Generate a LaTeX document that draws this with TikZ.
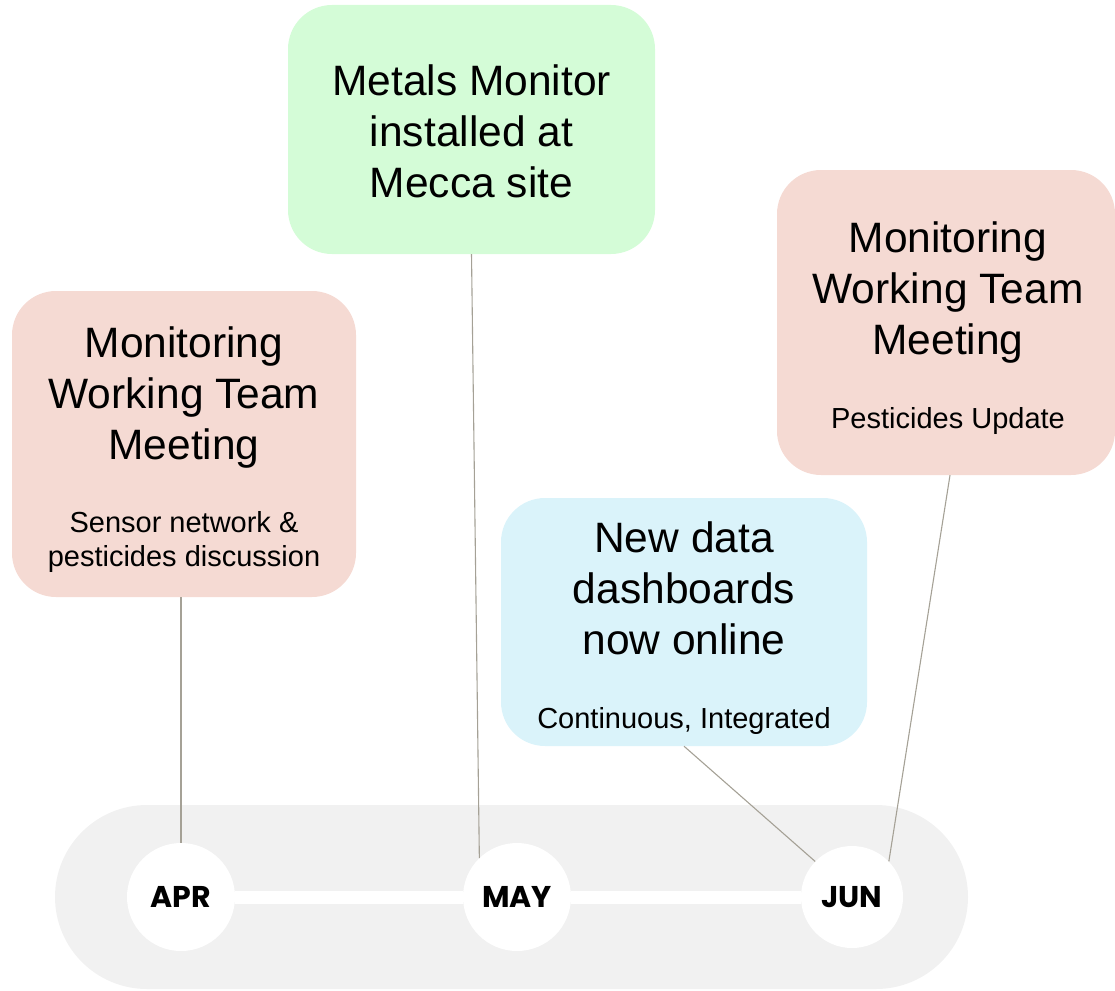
\documentclass[tikz,border=0pt]{standalone}
\usepackage{fontspec}
\setmainfont{Liberation Sans}
\newfontfamily\monthfont{Poppins}[BoldFont={Poppins Bold}]
\usetikzlibrary{calc}
\definecolor{pinkbox}{RGB}{245,218,211}
\definecolor{greenbox}{RGB}{212,252,215}
\definecolor{bluebox}{RGB}{218,243,250}
\definecolor{trackgray}{RGB}{241,241,241}
\definecolor{linkgray}{RGB}{165,161,150}
\tikzset{
  evbox/.style={rectangle, rounded corners=44pt, inner sep=0pt, draw=none},
  title/.style={anchor=base, inner sep=0pt, font=\fontsize{42.5}{51}\selectfont},
  sub/.style={anchor=base, inner sep=0pt, font=\fontsize{29}{34}\selectfont},
  month/.style={circle, fill=white, inner sep=0pt, font=\monthfont\bfseries\fontsize{30}{32}\selectfont},
  link/.style={draw=linkgray, line width=1.1pt},
}
\begin{document}
\begin{tikzpicture}[x=1pt,y=-1pt]
\useasboundingbox (0,0) rectangle (1115,990);
% track background
\fill[trackgray, rounded corners=92pt] (55,805) rectangle (968,989);
% month circles
\node[month, minimum size=108pt] (apr) at (181,897) {APR};
\node[month, minimum size=108pt] (may) at (517,897) {MAY};
\node[month, minimum size=102pt] (jun) at (852,897) {JUN};
% boxes
\node[evbox, fill=pinkbox, minimum width=344pt, minimum height=306pt] (lbox) at (184,444) {};
\node[evbox, fill=greenbox, minimum width=367pt, minimum height=249pt] (gbox) at (471.5,129.5) {};
\node[evbox, fill=pinkbox, minimum width=338pt, minimum height=305pt] (rbox) at (946,322.5) {};
\node[evbox, fill=bluebox, minimum width=366pt, minimum height=248pt] (bbox) at (684,622) {};
% texts
\node[title] (l1) at (184,357) {Monitoring};
\node[title] (l2) at (184,408) {Working Team};
\node[title] (l3) at (184,459) {Meeting};
\node[sub] (l4) at (184,532) {Sensor network \&};
\node[sub] (l5) at (184,566) {pesticides discussion};
\node[title] (g1) at (471.5,95) {Metals Monitor};
\node[title] (g2) at (471.5,146) {installed at};
\node[title] (g3) at (471.5,197) {Mecca site};
\node[title] (r1) at (948,252) {Monitoring};
\node[title] (r2) at (948,303) {Working Team};
\node[title] (r3) at (948,354) {Meeting};
\node[sub] (r4) at (948,428) {Pesticides Update};
\node[title] (b1) at (684,552) {New data};
\node[title] (b2) at (684,603) {dashboards};
\node[title] (b3) at (684,654) {now online};
\node[sub] (b4) at (684,728) {Continuous, Integrated};
% connectors
\draw[link] (apr.north |- lbox.south) -- (apr.north);
\draw[link] (gbox.south) -- (may.134);
\draw[link] (bbox.south) -- (jun.136);
\draw[link] ($(rbox.south)+(4,0)$) -- (jun.44);
% white bar between circles
\draw[white, line width=13pt] (apr.east) -- (may.west);
\draw[white, line width=13pt] (may.east) -- (jun.west);
\end{tikzpicture}
\end{document}
